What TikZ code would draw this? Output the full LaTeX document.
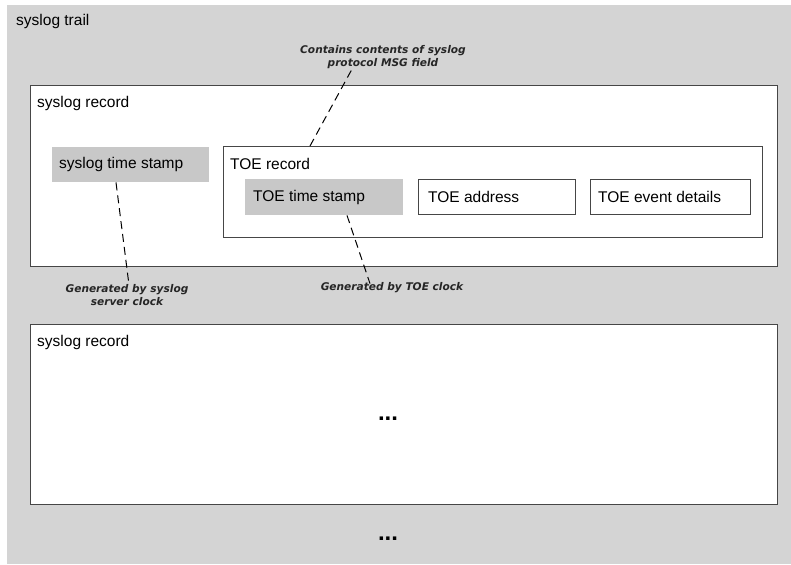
\documentclass[tikz,border=0pt]{standalone}
\usepackage{fontspec}
\setmainfont{Liberation Sans}
\newfontfamily\notefont{DejaVu Sans}
\definecolor{bgc}{RGB}{212,212,212}
\definecolor{stampc}{RGB}{200,200,200}
\definecolor{edgec}{RGB}{70,70,70}
\begin{document}
\begin{tikzpicture}[x=1pt,y=-1pt,
  recbox/.style={draw=edgec, line width=1.4pt, fill=white, inner sep=0pt, anchor=north west},
  stampbox/.style={fill=stampc, inner sep=0pt, anchor=north west},
  title/.style={anchor=west, inner sep=0pt, font=\fontsize{15.5}{18}\selectfont},
  note/.style={font=\notefont\bfseries\itshape\fontsize{10.6}{13.5}\selectfont, align=center, inner sep=0pt, text=black!85},
  dots/.style={font=\fontsize{24}{24}\selectfont\bfseries, inner sep=0pt},
  conn/.style={dash pattern=on 8pt off 5pt, line width=1pt, draw=black}]
\useasboundingbox (0,0) rectangle (791,564);
\fill[bgc] (7,5) rectangle (791,564);
\node[title] (trail) at (16,21) {syslog trail};
% first syslog record
\node[recbox, minimum width=747pt, minimum height=181pt] (rec1) at (30,85) {};
\node[title] (rec1t) at (37,103) {syslog record};
\node[stampbox, minimum width=157pt, minimum height=35pt] (sts) at (52,147) {};
\node[title] (ststxt) at (59,164) {syslog time stamp};
\node[recbox, minimum width=539pt, minimum height=91pt] (toerec) at (223,146) {};
\node[title] (toerect) at (230,164) {TOE record};
\node[stampbox, minimum width=158pt, minimum height=36pt] (tts) at (245,179) {};
\node[title] (ttstxt) at (253,197) {TOE time stamp};
\node[recbox, minimum width=157pt, minimum height=35pt] (addr) at (418,179) {};
\node[title] (addrt) at (428,197) {TOE address};
\node[recbox, minimum width=160pt, minimum height=35pt] (evt) at (590,179) {};
\node[title] (evtt) at (598,197) {TOE event details};
% notes
\node[note] (n1) at (383,57) {Contains contents of syslog\\protocol MSG field};
\node[note] (n2) at (127,295) {Generated by syslog\\server clock};
\node[note] (n3) at (392,288) {Generated by TOE clock};
\draw[conn] ([xshift=87pt]toerec.north west) -- ([xshift=-31pt]n1.south);
\draw[conn] ([xshift=64pt]sts.south west) -- ([xshift=2pt,yshift=-1pt]n2.north);
\draw[conn] ([xshift=102pt]tts.south west) -- ([xshift=-22pt,yshift=-1pt]n3.north);
% second syslog record
\node[recbox, minimum width=747pt, minimum height=180pt] (rec2) at (30,324) {};
\node[title] (rec2t) at (37,342) {syslog record};
\node[dots] (d1) at (388,419) {...};
\node[dots] (d2) at (388,539) {...};
\end{tikzpicture}
\end{document}
